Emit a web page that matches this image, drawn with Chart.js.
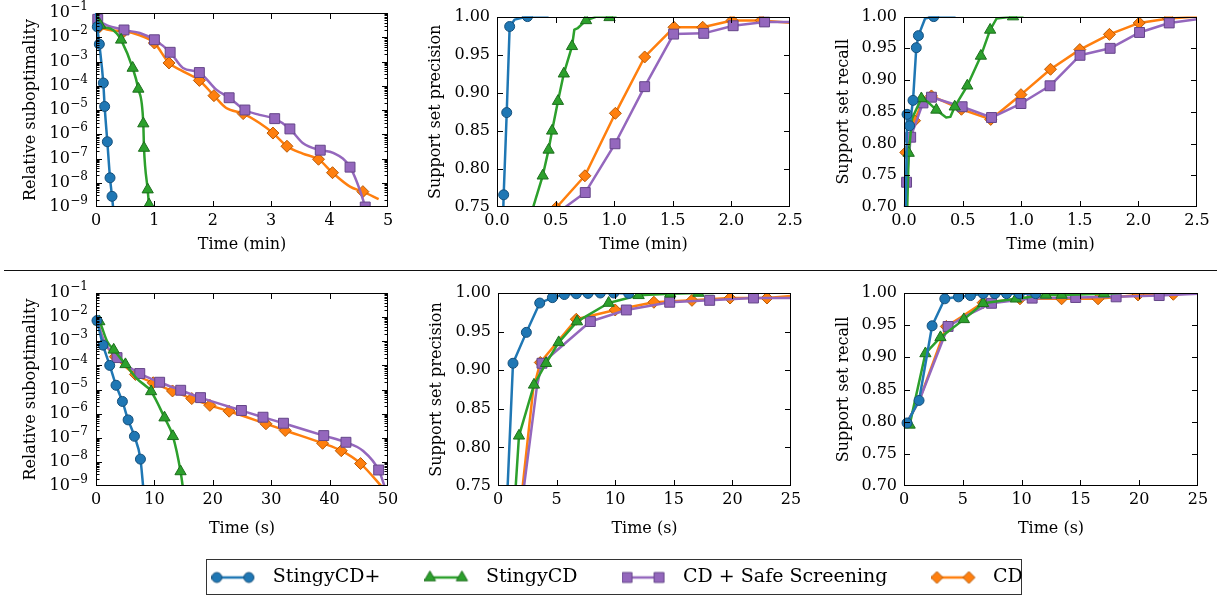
<!DOCTYPE html>
<html><head><meta charset="utf-8">
<script src="https://cdn.jsdelivr.net/npm/chart.js@4.4.1/dist/chart.umd.min.js"></script>
<style>
html,body{margin:0;padding:0;background:#fff;width:1217px;height:597px;overflow:hidden;position:relative;}
canvas{position:absolute;}
#sep{position:absolute;left:4px;top:270px;width:1213px;height:0;border-top:1.5px solid #111;}
#legbox{position:absolute;left:206px;top:559px;width:814px;height:34px;border:1px solid #333;}
</style></head><body>
<div id="sep"></div><div id="legbox"></div>
<script>
// ===================== DATA =====================
const SERIES_NAMES = ['StingyCD+', 'StingyCD', 'CD + Safe Screening', 'CD'];

// tick values
const X_TICKS_TOP_SUB = [0, 1, 2, 3, 4, 5];
const X_TICKS_TOP_SET = [0, 0.5, 1.0, 1.5, 2.0, 2.5];
const X_TICKS_BOT_SUB = [0, 10, 20, 30, 40, 50];
const X_TICKS_BOT_SET = [0, 5, 10, 15, 20, 25];
const Y_TICKS_LOG  = [1e-9, 1e-8, 1e-7, 1e-6, 1e-5, 1e-4, 1e-3, 1e-2, 1e-1];
const Y_TICKS_PREC = [0.75, 0.80, 0.85, 0.90, 0.95, 1.00];
const Y_TICKS_REC  = [0.70, 0.75, 0.80, 0.85, 0.90, 0.95, 1.00];

// axis titles
const X_TITLE_TOP = 'Time (min)';
const X_TITLE_BOT = 'Time (s)';
const Y_TITLE_SUB = 'Relative suboptimality';
const Y_TITLE_PREC = 'Support set precision';
const Y_TITLE_REC = 'Support set recall';

// ---- A: top row, relative suboptimality vs time (min) ----  [x, y]; *_mk = marked points, *_ln = other line vertices
const A_plus_mk   = [[0.022,2.7e-2],[0.057,5.2e-3],[0.125,1.3e-4],[0.148,1.4e-5],[0.194,4.9e-7],[0.24,1.6e-8],[0.274,2.75e-9]];
const A_plus_ln   = [[0.0,1.2e-1],[0.296,8e-10]];
const A_stingy_mk = [[0.07,3.2e-2],[0.43,7.8e-3],[0.628,5.4e-4],[0.725,7.4e-5],[0.81,2.75e-6],[0.822,2.7e-7],[0.885,5.2e-9],[0.908,1.26e-9]];
const A_stingy_ln = [[0.01,1.1e-1],[0.24,2.3e-2],[0.355,1.45e-2],[0.93,7e-10]];
const A_safe_mk   = [[0.03,5.5e-2],[0.48,2.0e-2],[1.0,7.9e-3],[1.27,2.4e-3],[1.77,3.5e-4],[2.28,3.2e-5],[2.55,1.0e-5],[3.06,4.4e-6],[3.32,1.66e-6],[3.84,2.2e-7],[4.35,4.4e-8],[4.61,1.0e-9]];
const A_safe_ln   = [[0.0,7e-2],[0.75,1.5e-2],[1.49,5.4e-4],[2.06,6.9e-5],[2.8,6.3e-6],[3.54,4.4e-7],[4.06,1.7e-7],[4.65,4e-10]];
const A_cd_mk     = [[0.06,2.7e-2],[0.48,1.75e-2],[1.0,5.8e-3],[1.25,8.7e-4],[1.77,1.66e-4],[2.02,3.9e-5],[2.52,7.1e-6],[3.03,1.12e-6],[3.27,3.2e-7],[3.81,9.3e-8],[4.05,2.6e-8],[4.57,4.3e-9]];
const A_cd_ln     = [[0.0,5e-2],[0.75,1.2e-2],[1.49,3.9e-4],[2.23,1.2e-5],[2.8,2.9e-6],[3.54,1.6e-7],[4.35,6.9e-9],[4.84,2.1e-9]];

// ---- B: top row, support set precision vs time (min) ----
const B_plus_mk   = [[0.057,0.766],[0.083,0.874],[0.108,0.987],[0.26,1.0]];
const B_plus_ln   = [[0.045,0.70],[0.15,0.996],[0.44,1.0]];
const B_stingy_mk = [[0.39,0.791],[0.44,0.825],[0.47,0.850],[0.52,0.889],[0.57,0.925],[0.64,0.961],[0.76,0.995],[0.96,0.999]];
const B_stingy_ln = [[0.21,0.70],[0.66,0.983],[0.69,0.985],[0.85,1.0],[1.02,1.0]];
const B_safe_mk   = [[0.753,0.769],[1.007,0.833],[1.26,0.908],[1.507,0.977],[1.764,0.978],[2.015,0.988],[2.283,0.993]];
const B_safe_ln   = [[0.45,0.735],[2.5,0.993]];
const B_cd_mk     = [[0.505,0.749],[0.75,0.791],[1.01,0.873],[1.26,0.947],[1.51,0.986],[1.755,0.986],[2.006,0.995],[2.255,0.995]];
const B_cd_ln     = [[0.40,0.735],[2.5,0.992]];

// ---- C: top row, support set recall vs time (min) ----
const C_plus_mk   = [[0.026,0.846],[0.048,0.828],[0.077,0.868],[0.105,0.951],[0.123,0.970],[0.254,1.0]];
const C_plus_ln   = [[0.014,0.68],[0.18,0.997],[0.44,1.0]];
const C_stingy_mk = [[0.04,0.785],[0.148,0.871],[0.276,0.853],[0.433,0.858],[0.54,0.891],[0.656,0.938],[0.735,0.979],[0.93,1.0]];
const C_stingy_ln = [[0.025,0.68],[0.07,0.84],[0.20,0.866],[0.36,0.841],[0.395,0.842],[0.79,0.997],[1.02,1.0]];
const C_safe_mk   = [[0.022,0.739],[0.057,0.810],[0.162,0.864],[0.234,0.873],[0.496,0.858],[0.747,0.841],[0.998,0.863],[1.246,0.891],[1.502,0.939],[1.759,0.950],[2.01,0.975],[2.263,0.990]];
const C_safe_ln   = [[0.005,0.69],[2.5,0.996]];
const C_cd_mk     = [[0.015,0.786],[0.09,0.836],[0.16,0.867],[0.234,0.875],[0.49,0.854],[0.74,0.838],[0.998,0.877],[1.25,0.917],[1.50,0.948],[1.753,0.972],[2.007,0.990],[2.258,0.997]];
const C_cd_ln     = [[2.5,1.0]];

// ---- D: bottom row, relative suboptimality vs time (s) ----
const D_plus_mk   = [[0.17,7.2e-3],[1.2,6.9e-4],[2.35,1.0e-4],[3.43,1.5e-5],[4.52,3.2e-6],[5.5,5.5e-7],[6.58,1.15e-7],[7.61,1.3e-8]];
const D_plus_ln   = [[8.1,8e-10]];
const D_stingy_mk = [[0.57,6.6e-3],[3.03,4.4e-4],[5.04,1.1e-4],[9.44,8.3e-6],[11.73,6.8e-7],[13.17,1.15e-7],[14.48,4.0e-9]];
const D_stingy_ln = [[0.2,7.5e-3],[1.9,1.0e-3],[7.0,2.8e-5],[14.9,8e-10]];
const D_safe_mk   = [[3.6,2.1e-4],[7.5,4.6e-5],[10.9,2.0e-5],[14.5,9.3e-6],[17.9,4.6e-6],[24.9,1.35e-6],[28.6,7.1e-7],[32.1,4.0e-7],[39.0,1.23e-7],[42.8,6.5e-8],[48.4,4.6e-9]];
const D_safe_ln   = [[0.2,7e-3],[1.3,1.1e-3],[45.7,2.9e-8],[49.7,6e-10]];
const D_cd_mk     = [[3.3,2.3e-4],[6.75,4.2e-5],[9.8,1.9e-5],[13.1,8.7e-6],[16.4,4.2e-6],[19.5,2.2e-6],[22.8,1.26e-6],[29.1,3.8e-7],[32.4,2.0e-7],[38.8,5.9e-8],[42.0,2.9e-8],[45.3,8.5e-9]];
const D_cd_ln     = [[0.2,7e-3],[1.3,1.05e-3],[49.4,7e-10]];

// ---- E: bottom row, support set precision vs time (s) ----
const E_plus_mk   = [[1.28,0.909],[2.42,0.949],[3.56,0.987],[4.64,0.994],[5.66,0.998],[6.68,0.999],[7.68,0.9995],[8.73,1.0],[9.87,1.0],[11.15,0.9995]];
const E_plus_ln   = [[0.68,0.70],[11.6,1.0]];
const E_stingy_mk = [[1.79,0.815],[3.07,0.881],[4.1,0.909],[5.18,0.936],[6.74,0.963],[9.44,0.987],[12.0,0.997],[14.7,0.999],[17.1,1.0]];
const E_stingy_ln = [[1.30,0.70],[18.4,1.0]];
const E_safe_mk   = [[3.75,0.909],[7.88,0.963],[10.95,0.978],[14.65,0.988],[18.06,0.9905],[21.8,0.9935]];
const E_safe_ln   = [[1.8,0.70],[3.33,0.880],[25,0.9935]];
const E_cd_mk     = [[3.61,0.910],[6.68,0.966],[10.0,0.978],[13.3,0.988],[16.55,0.9905],[19.8,0.9935],[22.95,0.9935]];
const E_cd_ln     = [[1.75,0.70],[3.0,0.875],[25,0.996]];

// ---- F: bottom row, support set recall vs time (s) ----
const F_plus_mk   = [[0.26,0.798],[1.28,0.833],[2.39,0.949],[3.47,0.991],[4.63,0.994],[5.65,0.996],[6.73,0.999],[7.73,0.999],[8.72,0.999],[9.8,0.999],[11.2,0.999]];
const F_plus_ln   = [[11.6,1.0]];
const F_stingy_mk = [[0.48,0.795],[1.82,0.906],[3.1,0.931],[5.09,0.959],[6.73,0.984],[9.52,0.991],[12.07,0.997],[13.4,0.997],[17.0,0.999]];
const F_stingy_ln = [[0.15,0.797],[18.4,1.0]];
const F_safe_mk   = [[3.75,0.948],[7.44,0.984],[10.9,0.992],[14.6,0.993],[18.04,0.994],[21.7,0.996]];
const F_safe_ln   = [[0.2,0.797],[1.3,0.833],[5.3,0.965],[25,0.999]];
const F_cd_mk     = [[3.6,0.948],[6.73,0.985],[9.86,0.991],[13.4,0.991],[16.5,0.991],[19.9,0.997],[22.9,0.998]];
const F_cd_ln     = [[0.2,0.797],[1.3,0.833],[4.9,0.963],[25,1.0]];

// ===================== STYLE =====================
const FONT = '"DejaVu Serif", "Liberation Serif", serif';
const COLORS = ['#1f77b4', '#2ca02c', '#9467bd', '#ff7f0e'];
const EDGES  = ['#16507b', '#1d6e1d', '#654689', '#b85a06'];
const STYLES = ['circle', 'triangle', 'rect', 'rectRot'];
const RADII  = [5, 6.5, 7, 6];

Chart.defaults.font.family = FONT;
Chart.defaults.font.size = 16;
Chart.defaults.color = '#000';

function buildPoints(mk, ln) {
  const pts = mk.map(p => ({x: p[0], y: p[1], m: 1}))
    .concat(ln.map(p => ({x: p[0], y: p[1], m: 0})));
  pts.sort((a, b) => a.x - b.x);
  return pts;
}
function buildDatasets(list, smooth) {
  return list.map((pair, i) => ({
    label: SERIES_NAMES[i],
    data: buildPoints(pair[0], pair[1]),
    borderColor: COLORS[i],
    backgroundColor: COLORS[i],
    borderWidth: 2.5,
    borderJoinStyle: 'round',
    cubicInterpolationMode: smooth ? 'monotone' : 'default',
    tension: 0,
    fill: false,
    clip: {left: 8, top: 0, right: 0, bottom: 0},
    pointStyle: STYLES[i],
    pointRadius: c => (c.raw && c.raw.m) ? RADII[i] : 0,
    pointHoverRadius: c => (c.raw && c.raw.m) ? RADII[i] : 0,
    pointBackgroundColor: COLORS[i],
    pointBorderColor: EDGES[i],
    pointBorderWidth: 1
  }));
}

function isDecade(v) { const l = Math.log10(v); return Math.abs(l - Math.round(l)) < 1e-6; }

const framePlugin = {
  id: 'frame',
  afterDraw(chart) {
    const {ctx, chartArea: a, scales} = chart;
    const xs = scales.x, ys = scales.y;
    const L = Math.round(a.left), T = Math.round(a.top), R = Math.round(a.right), B = Math.round(a.bottom);
    ctx.save();
    ctx.strokeStyle = '#000';
    ctx.lineWidth = 1;
    ctx.beginPath();
    xs.ticks.forEach(t => {
      const px = Math.round(xs.getPixelForValue(t.value)) + 0.5;
      if (px <= L + 1 || px >= R - 1) return;
      ctx.moveTo(px, B); ctx.lineTo(px, B - 6);
      ctx.moveTo(px, T); ctx.lineTo(px, T + 6);
    });
    const isLog = ys.type === 'logarithmic';
    ys.ticks.forEach(t => {
      const py = Math.round(ys.getPixelForValue(t.value)) + 0.5;
      if (py <= T + 1 || py >= B - 1) return;
      const len = (!isLog || isDecade(t.value)) ? 6 : 3.5;
      ctx.moveTo(L, py); ctx.lineTo(L + len, py);
      ctx.moveTo(R, py); ctx.lineTo(R - len, py);
    });
    ctx.stroke();
    ctx.strokeRect(L + 0.5, T + 0.5, R - L - 1, B - T - 1);
    if (isLog) {
      ctx.fillStyle = '#000';
      ctx.textBaseline = 'middle';
      ys.ticks.forEach(t => {
        if (!isDecade(t.value)) return;
        const e = Math.round(Math.log10(t.value));
        const py = ys.getPixelForValue(t.value);
        const sup = (e < 0 ? '\u2212' : '') + Math.abs(e);
        ctx.font = '12px ' + FONT;
        const sw = ctx.measureText(sup).width;
        const xr = L - 8;
        ctx.textAlign = 'left';
        ctx.fillText(sup, xr - sw, py - 6);
        ctx.font = '16px ' + FONT;
        ctx.textAlign = 'right';
        ctx.fillText('10', xr - sw - 0.5, py);
      });
    }
    ctx.restore();
  }
};

const YW = 96, RP = 22, XH = 60;
function makePanel(rect, cfg) {
  const TP = rect.t < 100 ? rect.t : 20;
  const w = YW + (rect.r - rect.l) + RP;
  const h = TP + (rect.b - rect.t) + XH;
  const c = document.createElement('canvas');
  c.width = w; c.height = h;
  c.style.left = (rect.l - YW) + 'px';
  c.style.top = (rect.t - TP) + 'px';
  c.style.width = w + 'px'; c.style.height = h + 'px';
  document.body.appendChild(c);
  const isLog = cfg.yType === 'logarithmic';
  let yTickVals = cfg.yTicks.slice();
  if (isLog) {
    const minors = [];
    for (let i = 0; i < cfg.yTicks.length - 1; i++)
      for (let k = 2; k <= 9; k++) minors.push(cfg.yTicks[i] * k);
    yTickVals = yTickVals.concat(minors).sort((a, b) => a - b);
  }
  new Chart(c, {
    type: 'line',
    data: {datasets: buildDatasets(cfg.series, isLog)},
    options: {
      responsive: false,
      animation: false,
      events: [],
      layout: {padding: {top: TP, right: RP, left: 0, bottom: 0}},
      plugins: {legend: {display: false}, tooltip: {enabled: false}},
      scales: {
        x: {
          type: 'linear', min: cfg.xTicks[0], max: cfg.xTicks[cfg.xTicks.length - 1],
          afterBuildTicks: s => { s.ticks = cfg.xTicks.map(v => ({value: v})); },
          afterFit: s => { s.height = XH; },
          grid: {display: false, drawTicks: false, tickLength: 0},
          border: {display: false},
          ticks: {autoSkip: false, maxRotation: 0, minRotation: 0, padding: 4,
                  callback: v => cfg.xFmt(v), font: {size: 16, family: FONT}, color: '#000'},
          title: {display: true, text: cfg.xTitle, color: '#000', font: {size: 16, family: FONT},
                  padding: {top: 0, bottom: cfg.xTitlePad}}
        },
        y: {
          type: cfg.yType, min: cfg.yTicks[0], max: cfg.yTicks[cfg.yTicks.length - 1],
          afterBuildTicks: s => { s.ticks = yTickVals.map(v => ({value: v, major: !isLog || isDecade(v)})); },
          afterFit: s => { s.width = YW; },
          grid: {display: false, drawTicks: false, tickLength: 0},
          border: {display: false},
          ticks: {display: !isLog, autoSkip: false, padding: 7,
                  callback: v => isLog ? '' : v.toFixed(2), font: {size: 16, family: FONT}, color: '#000'},
          title: {display: true, text: cfg.yTitle, color: '#000', font: {size: 16, family: FONT},
                  padding: {top: YW - cfg.yTitleOff - 9.6, bottom: 0}}
        }
      }
    },
    plugins: [framePlugin]
  });
}

const fmtInt = v => String(Math.round(v));
const fmt1 = v => v.toFixed(1);

makePanel({l: 96, t: 13, r: 388, b: 207}, {
  yType: 'logarithmic', yTicks: Y_TICKS_LOG, xTicks: X_TICKS_TOP_SUB, xFmt: fmtInt,
  xTitle: X_TITLE_TOP, yTitle: Y_TITLE_SUB, xTitlePad: 13, yTitleOff: 65,
  series: [[A_plus_mk, A_plus_ln], [A_stingy_mk, A_stingy_ln], [A_safe_mk, A_safe_ln], [A_cd_mk, A_cd_ln]]
});
makePanel({l: 497, t: 13, r: 790, b: 207}, {
  yType: 'linear', yTicks: Y_TICKS_PREC, xTicks: X_TICKS_TOP_SET, xFmt: fmt1,
  xTitle: X_TITLE_TOP, yTitle: Y_TITLE_PREC, xTitlePad: 13, yTitleOff: 61,
  series: [[B_plus_mk, B_plus_ln], [B_stingy_mk, B_stingy_ln], [B_safe_mk, B_safe_ln], [B_cd_mk, B_cd_ln]]
});
makePanel({l: 904, t: 13, r: 1197, b: 207}, {
  yType: 'linear', yTicks: Y_TICKS_REC, xTicks: X_TICKS_TOP_SET, xFmt: fmt1,
  xTitle: X_TITLE_TOP, yTitle: Y_TITLE_REC, xTitlePad: 13, yTitleOff: 60,
  series: [[C_plus_mk, C_plus_ln], [C_stingy_mk, C_stingy_ln], [C_safe_mk, C_safe_ln], [C_cd_mk, C_cd_ln]]
});
makePanel({l: 96, t: 293, r: 388, b: 486}, {
  yType: 'logarithmic', yTicks: Y_TICKS_LOG, xTicks: X_TICKS_BOT_SUB, xFmt: fmtInt,
  xTitle: X_TITLE_BOT, yTitle: Y_TITLE_SUB, xTitlePad: 8, yTitleOff: 65,
  series: [[D_plus_mk, D_plus_ln], [D_stingy_mk, D_stingy_ln], [D_safe_mk, D_safe_ln], [D_cd_mk, D_cd_ln]]
});
makePanel({l: 498, t: 293, r: 791, b: 486}, {
  yType: 'linear', yTicks: Y_TICKS_PREC, xTicks: X_TICKS_BOT_SET, xFmt: fmtInt,
  xTitle: X_TITLE_BOT, yTitle: Y_TITLE_PREC, xTitlePad: 8, yTitleOff: 61,
  series: [[E_plus_mk, E_plus_ln], [E_stingy_mk, E_stingy_ln], [E_safe_mk, E_safe_ln], [E_cd_mk, E_cd_ln]]
});
makePanel({l: 904, t: 293, r: 1198, b: 486}, {
  yType: 'linear', yTicks: Y_TICKS_REC, xTicks: X_TICKS_BOT_SET, xFmt: fmtInt,
  xTitle: X_TITLE_BOT, yTitle: Y_TITLE_REC, xTitlePad: 8, yTitleOff: 60,
  series: [[F_plus_mk, F_plus_ln], [F_stingy_mk, F_stingy_ln], [F_safe_mk, F_safe_ln], [F_cd_mk, F_cd_ln]]
});

// ===================== LEGEND =====================
function makeIcon(i) {
  const c = document.createElement('canvas');
  c.width = 52; c.height = 20;
  const g = c.getContext('2d');
  const y = 10, x0 = 5.5, x1 = 37.5;
  g.strokeStyle = COLORS[i]; g.lineWidth = 2.5;
  g.beginPath(); g.moveTo(x0, y); g.lineTo(x1, y); g.stroke();
  g.fillStyle = COLORS[i]; g.strokeStyle = EDGES[i]; g.lineWidth = 1;
  const opts = {pointStyle: STYLES[i], radius: RADII[i], borderWidth: 1, rotation: 0};
  if (Chart.helpers && Chart.helpers.drawPoint) {
    Chart.helpers.drawPoint(g, opts, x0, y);
    Chart.helpers.drawPoint(g, opts, x1, y);
  }
  return c;
}
const ICONS = SERIES_NAMES.map((n, i) => makeIcon(i));

(function makeLegend() {
  const LEG_PAD = 44;
  const c = document.createElement('canvas');
  c.width = 1000; c.height = 140;
  c.style.left = '117px'; c.style.top = (577.5 - LEG_PAD - 9.5) + 'px';
  c.style.width = '1000px'; c.style.height = '140px';
  document.body.appendChild(c);
  new Chart(c, {
    type: 'line',
    data: {datasets: SERIES_NAMES.map((n, i) => ({label: n, data: [], borderColor: COLORS[i], backgroundColor: COLORS[i]}))},
    options: {
      responsive: false, animation: false, events: [],
      layout: {padding: 0},
      scales: {x: {display: false}, y: {display: false}},
      plugins: {
        tooltip: {enabled: false},
        legend: {
          display: true, position: 'top', align: 'center',
          labels: {
            usePointStyle: true, pointStyleWidth: 52, boxHeight: 19, padding: LEG_PAD,
            font: {size: 19, family: FONT}, color: '#000',
            generateLabels: ch => ch.data.datasets.map((d, i) => ({
              text: d.label, pointStyle: ICONS[i], fillStyle: COLORS[i], strokeStyle: COLORS[i],
              lineWidth: 0, hidden: false, datasetIndex: i, fontColor: '#000'
            }))
          }
        }
      }
    }
  });
})();
</script>
</body></html>
